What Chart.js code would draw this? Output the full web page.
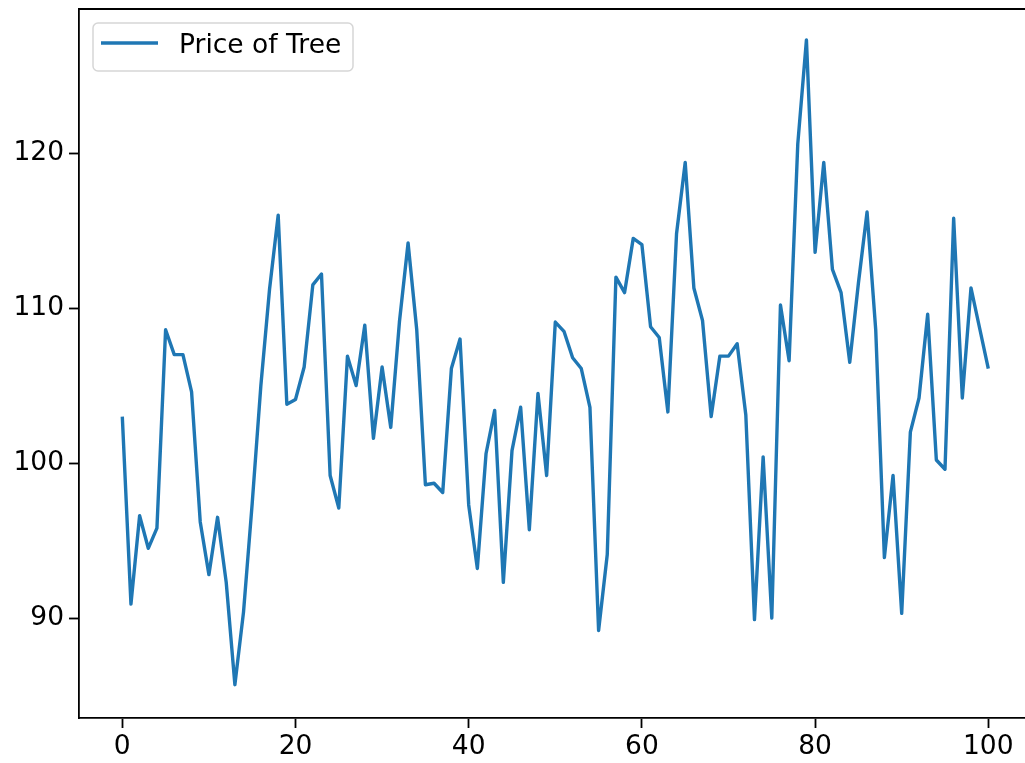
<!DOCTYPE html>
<html lang="en">
<head>
    <meta charset="UTF-8">
    <title>Price of Tree</title>
    <script src="https://cdn.jsdelivr.net/npm/chart.js"></script>
    <style>
        body {
            margin: 0;
            background-color: #fff;
            overflow: hidden;
        }
        .chart-container {
            position: absolute;
            left: 0;
            top: 0;
            width: 1040px;
            height: 763px;
        }
    </style>
</head>
<body>
    <div class="chart-container">
        <canvas id="priceChart"></canvas>
    </div>

    <script>
        // Values
        const seriesLabel = 'Price of Tree';
        const priceOfTree = [
            103.0, 90.9, 96.6, 94.5, 95.8, 108.6, 107.0, 107.0, 104.6, 96.2,
            92.8, 96.5, 92.3, 85.7, 90.4, 97.4, 105.0, 111.2, 116.0, 103.8,
            104.1, 106.2, 111.5, 112.2, 99.2, 97.1, 106.9, 105.0, 108.9, 101.6,
            106.2, 102.3, 109.1, 114.2, 108.6, 98.6, 98.7, 98.1, 106.1, 108.0,
            97.3, 93.2, 100.6, 103.4, 92.3, 100.8, 103.6, 95.7, 104.5, 99.2,
            109.1, 108.5, 106.8, 106.1, 103.6, 89.2, 94.1, 112.0, 111.0, 114.5,
            114.1, 108.8, 108.1, 103.3, 114.8, 119.4, 111.3, 109.2, 103.0, 106.9,
            106.9, 107.7, 103.1, 89.9, 100.4, 90.0, 110.2, 106.6, 120.6, 127.3,
            113.6, 119.4, 112.5, 111.0, 106.5, 111.6, 116.2, 108.6, 93.9, 99.2,
            90.3, 102.0, 104.2, 109.6, 100.2, 99.6, 115.8, 104.2, 111.3, 108.7,
            106.1
        ];
        const xValues = priceOfTree.map((_, i) => i);
        const xTicks = [0, 20, 40, 60, 80, 100];
        const yTicks = [90, 100, 110, 120];

        const blue = '#1f77b4';
        const fontFamily = '"DejaVu Sans", sans-serif';
        const fontSize = 26.5;

        // top / right spines like matplotlib
        const spines = {
            id: 'spines',
            afterDraw(chart) {
                const { ctx, chartArea: a } = chart;
                ctx.save();
                ctx.strokeStyle = '#000';
                ctx.lineWidth = 1.8;
                ctx.beginPath();
                ctx.moveTo(a.left, a.top);
                ctx.lineTo(a.right, a.top);
                ctx.lineTo(a.right, a.bottom);
                ctx.stroke();
                ctx.restore();
            }
        };

        // legend drawn inside the axes, upper left
        const legendBox = {
            id: 'legendBox',
            afterDraw(chart) {
                const { ctx, chartArea: a } = chart;
                const ds = chart.data.datasets[0];
                const x = a.left + 14, y = a.top + 14, w = 260, h = 48, r = 5;
                ctx.save();
                ctx.beginPath();
                ctx.roundRect(x, y, w, h, r);
                ctx.fillStyle = 'rgba(255,255,255,0.8)';
                ctx.fill();
                ctx.strokeStyle = '#d6d6d6';
                ctx.lineWidth = 1.5;
                ctx.stroke();

                ctx.beginPath();
                ctx.moveTo(x + 8, y + 20);
                ctx.lineTo(x + 65, y + 20);
                ctx.strokeStyle = ds.borderColor;
                ctx.lineWidth = ds.borderWidth;
                ctx.stroke();

                ctx.fillStyle = '#000';
                ctx.font = fontSize + 'px ' + fontFamily;
                ctx.textBaseline = 'alphabetic';
                ctx.textAlign = 'left';
                ctx.fillText(ds.label, x + 86, y + 30);
                ctx.restore();
            }
        };

        new Chart(document.getElementById('priceChart'), {
            type: 'line',
            data: {
                labels: xValues,
                datasets: [{
                    label: seriesLabel,
                    data: priceOfTree,
                    borderColor: blue,
                    backgroundColor: blue,
                    borderWidth: 3.4,
                    borderJoinStyle: 'round',
                    pointRadius: 0,
                    tension: 0,
                    fill: false
                }]
            },
            options: {
                responsive: true,
                maintainAspectRatio: false,
                animation: false,
                devicePixelRatio: 1,
                layout: {
                    padding: { top: 9, right: 8.4, left: 0, bottom: 0 }
                },
                scales: {
                    x: {
                        type: 'linear',
                        min: -5,
                        max: 105,
                        afterBuildTicks: scale => {
                            scale.ticks = xTicks.map(v => ({ value: v }));
                        },
                        afterFit: scale => {
                            scale.height = 45;
                            scale.paddingLeft = 0;
                            scale.paddingRight = 0;
                        },
                        ticks: {
                            color: '#000',
                            padding: 3.5,
                            maxRotation: 0,
                            font: { family: fontFamily, size: fontSize }
                        },
                        grid: {
                            drawOnChartArea: false,
                            tickLength: 10,
                            tickWidth: 1.8,
                            tickColor: '#000'
                        },
                        border: { display: true, color: '#000', width: 1.8 }
                    },
                    y: {
                        type: 'linear',
                        min: 83.55,
                        max: 129.3,
                        afterBuildTicks: scale => {
                            scale.ticks = yTicks.map(v => ({ value: v }));
                        },
                        afterFit: scale => {
                            scale.width = 79;
                            scale.paddingTop = 0;
                            scale.paddingBottom = 0;
                        },
                        ticks: {
                            color: '#000',
                            padding: 5,
                            font: { family: fontFamily, size: fontSize }
                        },
                        grid: {
                            drawOnChartArea: false,
                            tickLength: 10,
                            tickWidth: 1.8,
                            tickColor: '#000'
                        },
                        border: { display: true, color: '#000', width: 1.8 }
                    }
                },
                plugins: {
                    legend: { display: false },
                    tooltip: { enabled: false }
                }
            },
            plugins: [spines, legendBox]
        });
    </script>
</body>
</html>
